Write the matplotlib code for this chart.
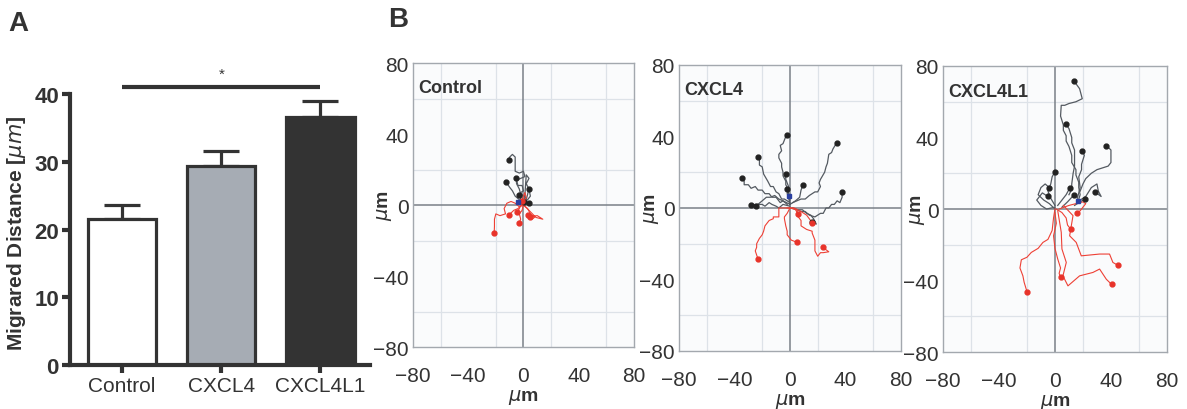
import matplotlib
matplotlib.use("Agg")
import matplotlib.pyplot as plt
import numpy as np

plt.rcParams['font.family'] = ['Liberation Sans', 'DejaVu Sans']

# panel A: migrated distance
groups = ['Control', 'CXCL4', 'CXCL4L1']
means = [21.5, 29.4, 36.6]
sems = [2.1, 2.2, 2.4]
bar_colors = ['white', '#a6acb4', '#333333']

# panel B: cell tracks (x, y in um), each ends at the dotted point
control_black = [
    [(0, 1), (-1, 4), (-2, 7), (0, 8), (-1, 11), (-4, 11), (-5, 14), (-2, 15), (1, 16), (0, 19),
     (-3, 18), (-6, 19), (-6, 23), (-6, 27), (-8, 28.5), (-10, 27), (-10.5, 25.5)],
    [(0, 1), (2, 3), (1, 5), (-2, 6), (-3, 9), (-5, 12), (-5.2, 15)],
    [(-1, 1), (-3, 3), (-6, 5), (-8, 8), (-10, 10), (-12.4, 12.7)],
    [(0, 0), (2, 3), (3, 6), (3.8, 9)],
    [(0, 0), (2, 1), (4.3, 1)],
    [(-1, 0), (-2, 3), (-2.9, 5.8)],
    [(0, 1), (3, 3), (5, 5), (4, 9), (2, 12), (4, 15), (2, 17), (0.7, 1.5)],
]
control_red = [
    [(0, 0), (-3, -1), (-6, 1), (-9, 2), (-12, 1), (-14, -2), (-13, -5), (-17, -6), (-20, -5),
     (-21, -8), (-21, -12), (-21.2, -15.9)],
    [(0, 0), (-1, -3), (-3, -5), (-2, -8), (-3.3, -10.3)],
    [(-1, 0), (-4, -2), (-7, -3), (-10.5, -5.6)],
    [(0, 0), (3, -2), (5, -5), (8, -7), (6, -8), (3.1, -5.6)],
    [(-2, 0), (-3, -2), (-4.5, -4.1)],
    [(0, 0), (4, -3), (9, -7), (14, -8), (10, -6), (5, -6.5)],
    [(0, 2), (2, 4), (1, 7), (0, 5), (-1, 2)],
]
control_start = (-4, 1.9)

cxcl4_black = [
    [(0, 5), (-1, 8), (-1, 10), (-3, 13), (-3, 15), (-5, 18), (-5, 20), (-6, 23), (-6, 25), (-8, 28),
     (-8, 30), (-6, 32), (-7, 35), (-5, 36), (-4, 38), (-3, 40), (-2.4, 40.7)],
    [(2, 3), (5, 4), (8, 5), (11, 5), (14, 7), (18, 9), (20, 9), (22, 12), (21, 14), (22, 16), (25, 20),
     (26, 23), (27, 25), (28, 30), (30, 31), (31, 33), (33.8, 36.6)],
    [(0, 3), (-4, 5), (-6, 5), (-8, 8), (-10, 9), (-12, 12), (-14, 12), (-16, 15), (-19, 19), (-20, 23),
     (-22, 24), (-22, 27), (-23.1, 28.6)],
    [(0, 2), (-5, 4), (-7, 3), (-10, 6), (-13, 6), (-15, 8), (-18, 8), (-20, 10), (-23, 10), (-25, 12),
     (-28, 11), (-30, 13), (-33, 13), (-33, 15), (-34.8, 16.8)],
    [(0, 4), (-2, 8), (-1, 12), (-3, 16), (-3.1, 18.9)],
    [(0, 2), (4, 4), (7, 6), (8, 10), (9.3, 12.9)],
    [(2, 0), (5, -1), (8, -2), (11, -2), (14, -4), (18, -5), (22, -3), (24, -3), (26, 0), (28, 0), (30, 2),
     (32, 2), (34, 4), (36, 3), (37.6, 6), (37.6, 9)],
    [(0, 2), (-1, 6), (-1.9, 10.8)],
    [(0, 1), (-5, 2), (-8, 0), (-10, 1), (-13, 2), (-15, 3), (-18, 1), (-20, 2), (-24, 2), (-27.9, 1.7)],
    [(0, 0), (6, -1), (9, -1), (12, -3), (15, -4), (17, -6), (19, -9), (16, -8)],
    [(-2, 2), (-5, 4), (-8, 5), (-11, 7), (-14, 6), (-17, 6), (-20, 4), (-24.5, 1.1)],
]
cxcl4_red = [
    [(0, 0), (-4, 0), (-8, 0), (-8, -5), (-12, -5), (-12, -6), (-15, -7), (-18, -10), (-19, -13), (-20, -15),
     (-22, -17), (-24, -20), (-24, -22), (-25, -24), (-23.1, -28.4)],
    [(0, 0), (-2, -3), (-4, -5), (-4, -6), (-3, -10), (-2, -13), (-2, -15), (1, -18), (4.8, -19.1)],
    [(0, 0), (5, -1), (6, -5), (8, -7), (8, -10), (12, -12), (16, -13), (16, -14), (18, -18), (18, -24),
     (20, -27), (22, -25), (24, -25), (28, -24.5), (23.8, -22.1)],
    [(-2, 0), (3, 0), (8, -2), (12, -4), (16, -8.2)],
    [(2, 0), (4, -1), (5.7, -3.2)],
]
cxcl4_start = (-0.5, 6.7)

cxcl4l1_black = [
    [(16.7, 4.7), (18, 8), (17, 12), (17, 15), (15, 19), (15, 22), (12, 26), (12, 30), (10, 35), (8, 38),
     (8, 41), (6, 44), (6, 47), (4, 52), (4.5, 58), (7, 58), (10, 59), (15, 60), (19.5, 61.7), (17.6, 67.3),
     (13.6, 71.6)],
    [(10, 8), (12, 11), (12, 14), (13, 20), (14, 24), (14, 27), (14, 33), (12, 37), (12, 40), (10, 45),
     (7.6, 47.7)],
    [(16, 6), (18, 12), (17, 18), (19, 22), (19, 25), (21, 30), (19.5, 32.7)],
    [(18, 10), (20, 14), (22, 17), (26, 20), (30, 22), (34, 23), (38, 24), (40, 26), (40, 30), (40, 33),
     (36.7, 35.5)],
    [(0, 2), (-3, 6), (-5, 10), (-3, 14), (-2, 18), (-0.2, 20.6)],
    [(18, 5), (22, 7), (26, 12), (30, 14), (31, 10), (33, 7), (28.3, 9.7)],
    [(2, 2), (5, 5), (8, 8), (10.5, 11.6)],
    [(5, 1), (9, 4), (13.6, 7.9)],
    [(14, 2), (18, 4), (21.7, 5.6)],
    [(0, 0), (-4, 3), (-8, 5), (-12, 8), (-10, 12), (-7, 14), (-4, 12)],
    [(0, 1), (-6, 0), (-10, 2), (-13, 5), (-9, 9), (-5, 7)],
]
cxcl4l1_red = [
    [(0, 0), (-1, -5), (-2, -12), (-5, -17), (-8.6, -18.7), (-12, -22), (-16.9, -24.3), (-20, -27),
     (-24, -28.4), (-25, -33), (-22.9, -37.4), (-22, -41), (-20, -46.2)],
    [(0, -2), (1, -8), (-1, -15), (0, -22), (2, -28), (4, -33), (3, -36), (4, -38.1)],
    [(2, -1), (4.5, -13), (5, -22.4), (8.1, -29.9), (5.7, -37.4), (9.3, -43), (17.6, -37.4),
     (27.1, -35.5), (31.9, -33.6), (36.7, -39.3), (40.5, -42.2)],
    [(6, 2), (12.9, -3.7), (10.5, -15), (15.2, -18.7), (18.8, -26.2), (31.9, -25.2), (39, -25.2),
     (41.4, -29.9), (44.8, -31.4)],
    [(1, 0), (5, -2), (8, -5), (9, -9), (11.2, -11.2)],
    [(3, 0), (10, 2), (15, 3), (20, 4), (22, 3), (18, -1), (15.7, -2.2)],
]
cxcl4l1_start = (16.7, 4.7)

panels = [
    ('Control', control_black, control_red, control_start),
    ('CXCL4', cxcl4_black, cxcl4_red, cxcl4_start),
    ('CXCL4L1', cxcl4l1_black, cxcl4l1_red, cxcl4l1_start),
]
ticks_b = [-80, -40, 0, 40, 80]
dark = '#333333'

fig = plt.figure(figsize=(11.87, 4.10), dpi=100)

# ---- panel A ----
ax = fig.add_axes([0.0590, 0.1073, 0.2527, 0.661])
x = np.arange(len(groups))
ax.bar(x, means, width=0.69, color=bar_colors, edgecolor=dark, linewidth=2.3, zorder=2)
ax.errorbar(x, means, yerr=[np.zeros(len(sems)), sems], fmt='none', ecolor=dark,
            elinewidth=2.3, capsize=13, capthick=2.3, zorder=1)
ax.set_xlim(-0.525, 2.5)
ax.set_ylim(0, 40)
ax.set_yticks([0, 10, 20, 30, 40])
ax.set_xticks(x)
ax.set_xticklabels(groups, fontsize=15)
for lab in ax.get_yticklabels():
    lab.set_fontweight('bold')
    lab.set_fontsize(16)
for s in ['top', 'right']:
    ax.spines[s].set_visible(False)
for s in ['left', 'bottom']:
    ax.spines[s].set_linewidth(3)
    ax.spines[s].set_color(dark)
ax.tick_params(axis='both', width=3, length=6, color=dark, labelcolor=dark, pad=2)
ax.set_ylabel('Migrared Distance [$\\mu m$]', fontsize=15, fontweight='bold', color=dark)
ax.yaxis.set_label_coords(-0.14, 0.49)
ax.plot([x[0], x[2]], [41.0, 41.0], color=dark, lw=3, clip_on=False, solid_capstyle='butt')
ax.text((x[0] + x[2]) / 2, 41.9, '*', ha='center', va='bottom', fontsize=11, color=dark)

fig.text(0.007, 0.925, 'A', fontsize=20, fontweight='bold', color=dark)
fig.text(0.327, 0.935, 'B', fontsize=20, fontweight='bold', color=dark)

# ---- panel B ----
rects = [
    [0.3479, 0.1512, 0.1862, 0.6927],
    [0.5720, 0.1415, 0.1870, 0.6976],
    [0.7944, 0.1390, 0.1887, 0.6976],
]
ylabel_x = [-0.088, -0.083, -0.072]
for rect, lx, (name, black, red, start) in zip(rects, ylabel_x, panels):
    bx = fig.add_axes(rect)
    bx.set_facecolor('#fafbfc')
    bx.set_xlim(-80, 80)
    bx.set_ylim(-80, 80)
    bx.set_xticks(np.arange(-80, 81, 20), minor=True)
    bx.set_yticks(np.arange(-80, 81, 20), minor=True)
    bx.grid(which='minor', color='#dde2e8', lw=0.9)
    bx.set_xticks(ticks_b)
    bx.set_yticks(ticks_b)
    bx.tick_params(which='both', length=0)
    bx.tick_params(axis='x', pad=14, labelsize=15, labelcolor=dark)
    bx.tick_params(axis='y', pad=3, labelsize=15, labelcolor=dark)
    bx.set_axisbelow(True)
    for s in bx.spines.values():
        s.set_color('#a3a8ae')
        s.set_linewidth(1.0)
    bx.axhline(0, color='#7a8087', lw=1.1, zorder=1)
    bx.axvline(0, color='#7a8087', lw=1.1, zorder=1)
    for tr in black:
        tx, ty = zip(*tr)
        bx.plot(tx, ty, color='#545a61', lw=0.9, zorder=3)
        bx.plot(tx[-1], ty[-1], 'o', color='#222222', ms=3.5, zorder=5)
    for tr in red:
        tx, ty = zip(*tr)
        bx.plot(tx, ty, color='#ee4035', lw=0.8, zorder=3)
        bx.plot(tx[-1], ty[-1], 'o', color='#e8332a', ms=3.5, zorder=5)
    bx.plot(start[0], start[1], 's', color='#2a3fa0', ms=3, zorder=6)
    bx.text(-76, 66, name, fontsize=13, fontweight='bold', color=dark, va='center', ha='left')
    bx.set_xlabel('$\\mu$m', fontsize=14, fontweight='bold', color=dark, labelpad=1)
    bx.set_ylabel('$\\mu$m', fontsize=14, fontweight='bold', color=dark)
    bx.yaxis.set_label_coords(lx, 0.5)

fig.savefig('out.png', dpi=100)
